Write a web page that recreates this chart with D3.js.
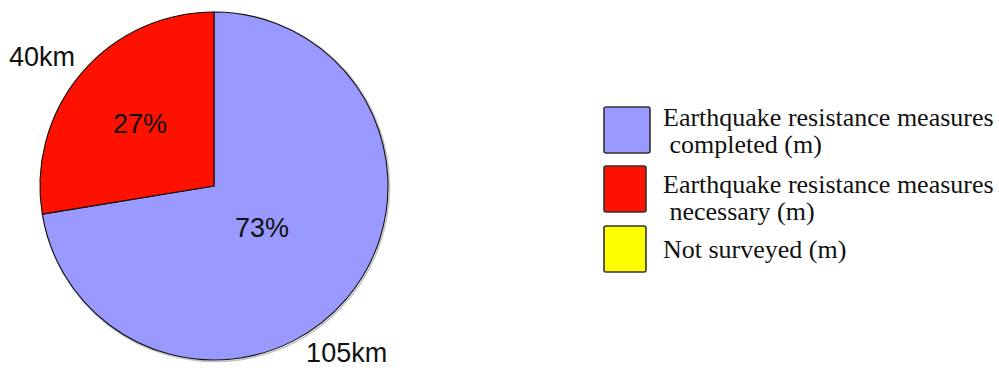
<!DOCTYPE html>
<html>
<head>
<meta charset="utf-8">
<script src="https://cdn.jsdelivr.net/npm/d3@7"></script>
<style>
  html, body { margin: 0; padding: 0; background: #fff; }
  svg { display: block; }
</style>
</head>
<body>
<svg id="chart" width="999" height="368"></svg>
<script>
// Survey lengths per category (km)
const categories = [
  "Earthquake resistance measures completed (m)",
  "Earthquake resistance measures necessary (m)",
  "Not surveyed (m)"
];
const legendLines = [
  ["Earthquake resistance measures", " completed (m)"],
  ["Earthquake resistance measures", " necessary (m)"],
  ["Not surveyed (m)"]
];
const values = [105, 40, 0];
const valueLabels = ["105km", "40km", ""];
const percentLabels = ["73%", "27%", ""];
const colors = ["#9999ff", "#ff1100", "#ffff00"];

const svg = d3.select("#chart");
const cx = 214, cy = 186, R = 174;

const pie = d3.pie().sort(null).value(d => d)(values);
const arc = d3.arc().innerRadius(0).outerRadius(R);

const g = svg.append("g").attr("transform", `translate(${cx},${cy})`);

// soft edge shadow round the disc
g.append("circle").attr("r", R + 0.5).attr("cx", 1).attr("cy", 1)
  .attr("fill", "none").attr("stroke", "#999").attr("stroke-width", 1.5).attr("opacity", 0.6);

g.selectAll("path.slice").data(pie.filter(d => d.value > 0)).join("path")
  .attr("class", "slice")
  .attr("d", arc)
  .attr("fill", d => colors[d.index])
  .attr("stroke", "#111")
  .attr("stroke-width", 1.1)
  .attr("stroke-linejoin", "round");

// percentage labels inside slices
const innerLabelRadius = [63, 97];
g.selectAll("text.pct").data(pie.filter(d => d.value > 0)).join("text")
  .attr("class", "pct")
  .attr("transform", d => {
    const r = innerLabelRadius[d.index];
    const c = d3.arc().innerRadius(r).outerRadius(r).centroid(d);
    return `translate(${c[0]},${c[1]})`;
  })
  .attr("text-anchor", "middle")
  .attr("dy", "0.36em")
  .attr("font-family", "Liberation Sans, Arial, sans-serif")
  .attr("font-size", 27)
  .attr("fill", "#111")
  .text(d => percentLabels[d.index]);

// value labels outside the disc
const outerAngles = [151, 313];
const outerR = 190;
g.selectAll("text.val").data(pie.filter(d => d.value > 0)).join("text")
  .attr("class", "val")
  .attr("x", d => outerR * Math.sin(outerAngles[d.index] * Math.PI / 180))
  .attr("y", d => -outerR * Math.cos(outerAngles[d.index] * Math.PI / 180))
  .attr("text-anchor", d => outerAngles[d.index] > 180 ? "end" : "start")
  .attr("dy", "0.36em")
  .attr("font-family", "Liberation Sans, Arial, sans-serif")
  .attr("font-size", 27)
  .attr("fill", "#111")
  .text(d => valueLabels[d.index]);

// legend: swatch tops/widths and first-line baselines per row
const swatchTop = [107, 166, 226];
const swatchW = [46, 42, 42];
const textBase = [126, 193, 258];
const legend = svg.append("g");
const rows = legend.selectAll("g.row").data(categories).join("g")
  .attr("class", "row");
rows.append("rect")
  .attr("x", 604)
  .attr("y", (d, i) => swatchTop[i])
  .attr("width", (d, i) => swatchW[i]).attr("height", 46).attr("rx", 2)
  .attr("fill", (d, i) => colors[i])
  .attr("stroke", "#333").attr("stroke-width", 1.6);
rows.each(function (d, i) {
  const t = d3.select(this).append("text")
    .attr("font-family", "Liberation Serif, Times New Roman, serif")
    .attr("font-size", 26)
    .attr("fill", "#111")
    .style("white-space", "pre");
  legendLines[i].forEach((ln, k) => {
    t.append("tspan").attr("x", 663).attr("y", textBase[i] + k * 27).text(ln);
  });
});
</script>
</body>
</html>
